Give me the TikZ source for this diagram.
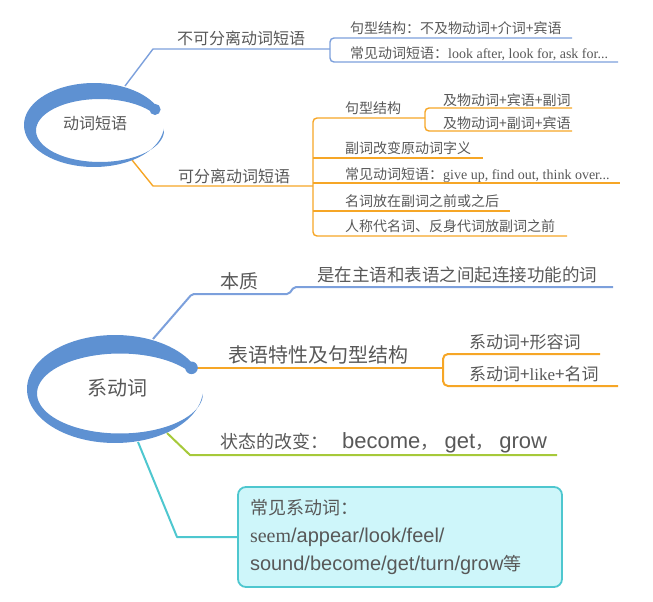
\documentclass[tikz,border=0pt]{standalone}
\usepackage{fontspec}
\setmainfont{Liberation Sans}
\newfontfamily\cjk{Noto Sans CJK SC}
\newfontfamily\latinserif{Liberation Serif}
\definecolor{ringblue}{RGB}{94,145,210}
\definecolor{lineblue}{RGB}{124,160,220}
\definecolor{lineorange}{RGB}{246,166,38}
\definecolor{linegreen}{RGB}{166,201,58}
\definecolor{linecyan}{RGB}{78,199,207}
\definecolor{boxfill}{RGB}{206,246,250}
\definecolor{textgray}{RGB}{88,88,88}

\begin{document}
\begin{tikzpicture}[x=1pt,y=-1pt]
\tikzset{
  rootword/.style={inner sep=0pt,text=textgray,font=\cjk\fontsize{#1}{#1}\selectfont},
  mapword/.style={anchor=base west,inner sep=0pt,text=textgray,font=\cjk\fontsize{#1}{#1}\selectfont},
  topbranch/.style={line width=1.4pt,line join=round},
  lowbranch/.style={line width=2pt,line join=round},
  cardbox/.style={draw=linecyan,line width=1.8pt,fill=boxfill,rounded corners=8pt,
    minimum width=324pt,minimum height=100pt,text width=300pt,align=left,inner sep=0pt,
    text=textgray,font=\fontsize{20}{28}\selectfont}
}
\useasboundingbox (0,0) rectangle (653,602);
% upper map
\coordinate (c_vp_up) at (125,86);
\coordinate (c_vp_upbend) at (153,49);
\coordinate (c_vp_upfork) at (330,49);
\coordinate (c_ns_top) at (330,38);
\coordinate (c_ns_topend) at (572,38);
\coordinate (c_ns_bot) at (330,62);
\coordinate (c_ns_botend) at (618,62);
\coordinate (c_vp_dn) at (132,160);
\coordinate (c_vp_dnbend) at (153,186);
\coordinate (c_vp_dnfork) at (313,186);
\coordinate (c_sp_top) at (313,118);
\coordinate (c_sp_sub) at (425,118);
\coordinate (c_sp_r2) at (313,158);
\coordinate (c_sp_r2end) at (483,158);
\coordinate (c_sp_r3) at (313,183);
\coordinate (c_sp_r3end) at (620,183);
\coordinate (c_sp_r4) at (313,211);
\coordinate (c_sp_r4end) at (510,211);
\coordinate (c_sp_bot) at (313,236);
\coordinate (c_sp_botend) at (567,236);
\coordinate (c_ss_top) at (425,108);
\coordinate (c_ss_topend) at (572,108);
\coordinate (c_ss_bot) at (425,131);
\coordinate (c_ss_botend) at (572,131);
\draw[topbranch,draw=lineblue] (c_vp_up) -- (c_vp_upbend) -- (c_vp_upfork);
\draw[topbranch,draw=lineblue,rounded corners=4pt] (c_ns_topend) -- (c_ns_top) -- (c_ns_bot) -- (c_ns_botend);
\draw[topbranch,draw=lineorange] (c_vp_dn) -- (c_vp_dnbend) -- (c_vp_dnfork);
\draw[topbranch,draw=lineorange,rounded corners=4pt] (c_sp_sub) -- (c_sp_top) -- (c_sp_bot) -- (c_sp_botend);
\draw[topbranch,draw=lineorange] (c_sp_r2) -- (c_sp_r2end);
\draw[topbranch,draw=lineorange] (c_sp_r3) -- (c_sp_r3end);
\draw[topbranch,draw=lineorange] (c_sp_r4) -- (c_sp_r4end);
\draw[topbranch,draw=lineorange,rounded corners=4pt] (c_ss_topend) -- (c_ss_top) -- (c_ss_bot) -- (c_ss_botend);
\fill[ringblue] plot[domain=30:355,samples=90] ({94+70*cos(-\x)},{125+42*sin(-\x)})
  -- plot[domain=30:355,samples=90] ({100+64*cos(\x-385)},{130.5+31.5*sin(\x-385)}) -- cycle;
\fill[ringblue] (155,109.4) circle[radius=5.6pt];
\node[rootword=16] (n_vp) at (95,123) {动词短语};
\node[mapword=16] (n_ns) at (177,45) {不可分离动词短语};
\node[mapword=16] (n_sp) at (178,182) {可分离动词短语};
\node[mapword=14] (n_ns1) at (350,33.8) {句型结构：不及物动词+介词+宾语};
\node[mapword=14] (n_ns2) at (350,58.8) {常见动词短语：{\latinserif look after, look for, ask for...}};
\node[mapword=14] (n_sp1) at (345,113.3) {句型结构};
\node[mapword=14] (n_ss1) at (443,105.3) {及物动词+宾语+副词};
\node[mapword=14] (n_ss2) at (443,128.3) {及物动词+副词+宾语};
\node[mapword=14] (n_sp2) at (345,153.8) {副词改变原动词字义};
\node[mapword=14] (n_sp3) at (345,179.3) {常见动词短语：{\latinserif give up, find out, think over...}};
\node[mapword=14] (n_sp4) at (345,206.3) {名词放在副词之前或之后};
\node[mapword=14] (n_sp5) at (345,231.3) {人称代名词、反身代词放副词之前};
% lower map
\node[cardbox] (n_box) at (400,537) {{\cjk\fontsize{18}{28}\selectfont 常见系动词：}\\
  {\latinserif seem}/appear/look/feel/\\
  sound/become/get/turn/grow{\cjk\fontsize{18}{28}\selectfont 等}};
\coordinate (c_lv_up) at (153,339);
\coordinate (c_lv_upbend) at (192,294);
\coordinate (c_lv_step1) at (289,294);
\coordinate (c_lv_step2) at (294,287);
\coordinate (c_lv_upend) at (613,287);
\coordinate (c_lv_mid) at (197,368);
\coordinate (c_lv_midfork) at (443,368);
\coordinate (c_pr_top) at (443,354);
\coordinate (c_pr_topend) at (600,354);
\coordinate (c_pr_bot) at (443,386);
\coordinate (c_pr_botend) at (618,386);
\coordinate (c_lv_green) at (167,433);
\coordinate (c_lv_greenbend) at (190,455);
\coordinate (c_lv_greenend) at (557,455);
\coordinate (c_lv_cyan) at (138,442);
\coordinate (c_lv_cyanbend) at (177,537);
\draw[lowbranch,draw=lineblue,rounded corners=2pt] (c_lv_up) -- (c_lv_upbend) -- (c_lv_step1) -- (c_lv_step2) -- (c_lv_upend);
\draw[lowbranch,draw=lineorange] (c_lv_mid) -- (c_lv_midfork);
\draw[lowbranch,draw=lineorange,rounded corners=5pt] (c_pr_topend) -- (c_pr_top) -- (c_pr_bot) -- (c_pr_botend);
\draw[lowbranch,draw=linegreen] (c_lv_green) -- (c_lv_greenbend) -- (c_lv_greenend);
\draw[lowbranch,draw=linecyan] (c_lv_cyan) -- (c_lv_cyanbend) -- (n_box.west);
\fill[ringblue] plot[domain=30:355,samples=90] ({115+88*cos(-\x)},{389+54*sin(-\x)})
  -- plot[domain=30:355,samples=90] ({120+83*cos(\x-385)},{393.5+40*sin(\x-385)}) -- cycle;
\fill[ringblue] (191.5,367.8) circle[radius=6.3pt];
\node[rootword=20] (n_lv) at (117,388) {系动词};
\node[mapword=19] (n_core) at (220,288.7) {本质};
\node[mapword=17.5] (n_core1) at (317,281.7) {是在主语和表语之间起连接功能的词};
\node[mapword=20] (n_pred) at (228,362) {表语特性及句型结构};
\node[mapword=17] (n_pred1) at (469,348.5) {系动词+形容词};
\node[mapword=17] (n_pred2) at (469,380) {系动词+{\latinserif like}+名词};
\node[mapword=18] (n_change) at (220,448.8) {状态的改变：\hspace{14pt}{\fontsize{22}{22}\selectfont\rmfamily become}，{\fontsize{22}{22}\selectfont\rmfamily\ get}，{\fontsize{22}{22}\selectfont\rmfamily\ grow}};
\end{tikzpicture}
\end{document}
